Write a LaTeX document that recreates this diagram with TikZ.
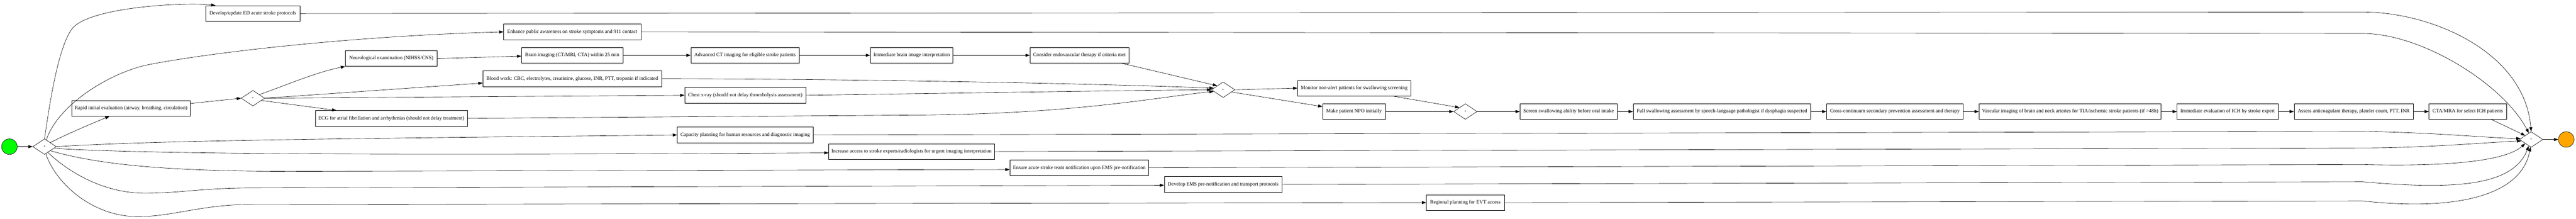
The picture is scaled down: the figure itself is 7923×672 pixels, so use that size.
\documentclass[tikz,border=0pt]{standalone}
\usepackage{fontspec}
\setmainfont{Liberation Serif}
\usepackage{xcolor}
\usepackage{tikz}
\usetikzlibrary{positioning,arrows.meta,calc,shapes.geometric}

\definecolor{startgreen}{RGB}{0,255,0}
\definecolor{endorange}{RGB}{255,165,0}

\begin{document}
\begin{tikzpicture}[
    x=0.75pt, y=-0.75pt,
    line width=0.75pt,
    task/.style={rectangle, draw, minimum height=36pt, inner xsep=4pt, font=\fontsize{11.8}{14}\selectfont},
    gate/.style={diamond, draw, minimum width=54pt, minimum height=36pt, inner sep=0pt, font=\fontsize{9}{10}\selectfont},
    event/.style={circle, draw, minimum size=36pt, inner sep=0pt},
    arrow/.style={-{Triangle[length=10pt,width=7pt]}}
]
\useasboundingbox (0,0) rectangle (7923,672);

% Start and first split
\node[event, fill=startgreen] (start) at (29,451) {};
\node[gate] (split) at (137,451) {+};

% Upper tasks
\node[task, minimum width=216.75pt] (dev) at (777.5,41.5) {Develop/update ED acute stroke protocols};
\node[task, minimum width=316.5pt] (enh) at (1760,98) {Enhance public awareness on stroke symptoms and 911 contact};
\node[task, minimum width=273pt] (rapid) at (403,333) {Rapid initial evaluation (airway, breathing, circulation)};

% Second split: assessments
\node[gate] (assessgw) at (778,302) {+};
\node[task, minimum width=212.25pt] (neuro) at (1203.5,180) {Neurological examination (NIHSS/CNS)};
\node[task, minimum width=350.25pt] (ecg) at (1203.5,364) {ECG for atrial fibrillation and arrhythmias (should not delay treatment)};
\node[task, minimum width=234pt] (brain) at (1760,170) {Brain imaging (CT/MRI, CTA) within 25 min};
\node[task, minimum width=412.5pt] (blood) at (1760,242) {Blood work: CBC, electrolytes, creatinine, glucose, INR, PTT, troponin if indicated};
\node[task, minimum width=249.75pt] (advct) at (2291.5,170) {Advanced CT imaging for eligible stroke patients};
\node[task, minimum width=279pt] (xray) at (2292,293) {Chest x-ray (should not delay thrombolysis assessment)};
\node[task, minimum width=190.5pt] (interp) at (2804,170) {Immediate brain image interpretation};
\node[task, minimum width=228pt] (evt) at (3320,170) {Consider endovascular therapy if criteria met};

% Join, then swallowing
\node[gate] (joingw) at (3762,276) {+};
\node[task, minimum width=261pt] (monitor) at (4165,271) {Monitor non-alert patients for swallowing screening};
\node[task, minimum width=144.75pt] (npo) at (4164.5,343) {Make patient NPO initially};
\node[gate] (swallowgw) at (4507,343) {+};

% Main chain
\node[task, minimum width=224.25pt] (screen) at (4824.5,343) {Screen swallowing ability before oral intake};
\node[task, minimum width=409.5pt, right=36pt of screen] (fullsw) {Full swallowing assessment by speech-language pathologist if dysphagia suspected};
\node[task, minimum width=315pt, right=36pt of fullsw] (cross) {Cross-continuum secondary prevention assessment and therapy};
\node[task, minimum width=420pt, right=36pt of cross] (vasc) {Vascular imaging of brain and neck arteries for TIA/ischemic stroke patients (if >48h)};
\node[task, minimum width=233.25pt, right=36pt of vasc] (ich) {Immediate evaluation of ICH by stroke expert};
\node[task, minimum width=274.5pt, right=36pt of ich] (anticoag) {Assess anticoagulant therapy, platelet count, PTT, INR};
\node[task, minimum width=178.5pt, right=36pt of anticoag] (cta) {CTA/MRA for select ICH patients};

% System tasks (lower)
\node[task, minimum width=313.5pt] (capacity) at (2292,415) {Capacity planning for human resources and diagnostic imaging};
\node[task, minimum width=381.75pt] (access) at (2803.5,466) {Increase access to stroke experts/radiologists for urgent imaging interpretation};
\node[task, minimum width=320.25pt] (ensure) at (3319.5,516) {Ensure acute stroke team notification upon EMS pre-notification};
\node[task, minimum width=271.5pt] (ems) at (3762,567) {Develop EMS pre-notification and transport protocols};
\node[task, minimum width=180pt] (regional) at (4507,623) {Regional planning for EVT access};

% Final join and end
\node[gate] (endgw) at (7785,429) {+};
\node[event, fill=endorange] (finish) at (7893,429) {};

% Flows out of the first split
\draw[arrow] (start) -- (split);
\draw[arrow] (split.north) .. controls (155,300) and (180,150) .. (219,92) .. controls (265,20) and (580,6) .. ([xshift=-86pt]dev.north);
\draw[arrow] (split.75) .. controls (175,330) and (320,232) .. (446,201) .. controls (650,160) and (1100,110) .. (enh.west);
\draw[arrow] (split.35) .. controls (200,415) and (270,385) .. ([xshift=-49.5pt]rapid.south);
\draw[arrow] (split.east) .. controls (500,430) and (1200,425) .. (capacity.west);
\draw[arrow] (split.-10) .. controls (500,478) and (1500,476) .. ([yshift=-3pt]access.west);
\draw[arrow] (split.-35) .. controls (300,505) and (500,527) .. (900,527) -- ([yshift=-4pt]ensure.west);
\draw[arrow] (split.-60) .. controls (190,510) and (300,594) .. (446,594) .. controls (550,594) and (620,579) .. (760,578) -- ([yshift=-2pt]ems.west);
\draw[arrow] (split.-80) .. controls (170,560) and (280,666) .. (424,666) .. controls (530,666) and (620,630) .. (760,629) -- (regional.west);

% Assessments
\draw[arrow] ([yshift=11pt]rapid.east) -- (assessgw.west);
\draw[arrow] (assessgw.30) .. controls (860,270) and (970,222) .. (neuro.south west);
\draw[arrow] (assessgw.east) -- ([yshift=-10pt]blood.west);
\draw[arrow] (assessgw.east) -- (xray.west);
\draw[arrow] (assessgw.-15) -- ([xshift=49pt]ecg.north west);
\draw[arrow] (neuro.east) -- ([yshift=-2pt]brain.west);
\draw[arrow] (brain) -- (advct);
\draw[arrow] (advct) -- (interp);
\draw[arrow] (interp) -- (evt);

% Into the join
\draw[arrow] ([xshift=-17pt]evt.south east) -- (joingw.north west);
\draw[arrow] (blood.east) .. controls (2600,243) and (3300,255) .. (joingw.170);
\draw[arrow] (xray.east) .. controls (2900,287) and (3400,279) .. (joingw.west);
\draw[arrow] (ecg.east) -- (2800,354) .. controls (3300,352) and (3550,300) .. (joingw.190);

% Swallowing
\draw[arrow] (joingw.east) -- (monitor.west);
\draw[arrow] (joingw.-15) -- ([yshift=-7pt]npo.north west);
\draw[arrow] ([xshift=-42pt]monitor.south east) -- (swallowgw.north west);
\draw[arrow] (npo) -- (swallowgw);
\draw[arrow] (swallowgw) -- (screen);
\draw[arrow] (screen) -- (fullsw);
\draw[arrow] (fullsw) -- (cross);
\draw[arrow] (cross) -- (vasc);
\draw[arrow] (vasc) -- (ich);
\draw[arrow] (ich) -- (anticoag);
\draw[arrow] (anticoag) -- (cta);

% Into the final join
\draw[arrow] (dev.east) -- (7267,37) .. controls (7480,37) and (7765,160) .. (endgw.north);
\draw[arrow] (enh.east) -- (7267,103) .. controls (7450,103) and (7700,260) .. (endgw.110);
\draw[arrow] ([xshift=-35pt]cta.south east) -- (endgw.north west);
\draw[arrow] (capacity.east) -- (7267,404) .. controls (7500,408) and (7650,424) .. (endgw.175);
\draw[arrow] (access.east) -- (7267,455) .. controls (7450,455) and (7620,440) .. (endgw.188);
\draw[arrow] (ensure.east) -- (7267,506) .. controls (7500,512) and (7700,500) .. (endgw.south west);
\draw[arrow] (ems.east) -- (7267,559) .. controls (7560,585) and (7730,570) .. (endgw.250);
\draw[arrow] (regional.east) -- (7267,618) .. controls (7560,650) and (7755,600) .. (endgw.265);
\draw[arrow] (endgw) -- (finish);

\end{tikzpicture}
\end{document}
